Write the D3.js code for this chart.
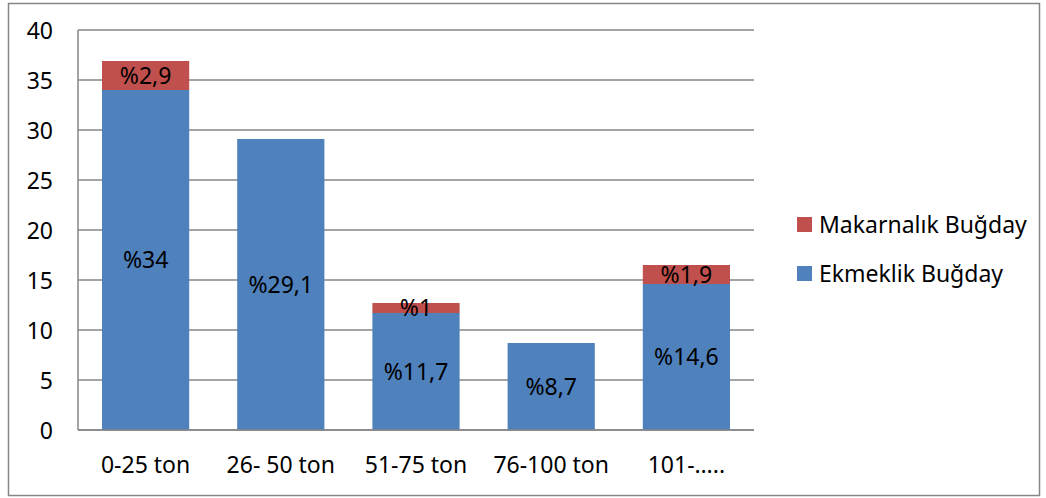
<!DOCTYPE html>
<html>
<head>
<meta charset="utf-8">
<script src="https://cdn.jsdelivr.net/npm/d3@7"></script>
<style>
  html, body { margin: 0; padding: 0; background: #fff; }
  svg text { font-family: "Noto Sans", "Open Sans", sans-serif; fill: #000; }
</style>
</head>
<body>
<svg id="chart" width="1046" height="498"></svg>
<script>
// Wheat production by farm size (share of producers, %)
const categories = ["0-25 ton", "26- 50 ton", "51-75 ton", "76-100 ton", "101-….."];
const breadWheat = [34, 29.1, 11.7, 8.7, 14.6];   // Ekmeklik Buğday
const durumWheat = [2.9, 0, 1, 0, 1.9];           // Makarnalık Buğday
const breadLabels = ["%34", "%29,1", "%11,7", "%8,7", "%14,6"];
const durumLabels = ["%2,9", "", "%1", "", "%1,9"];
const yTicks = [0, 5, 10, 15, 20, 25, 30, 35, 40];
const seriesNames = ["Makarnalık Buğday", "Ekmeklik Buğday"];

const colors = { bread: "#4F81BD", durum: "#C0504D" };
const gridColor = "#868686";
const FONT = "'Noto Sans', 'Open Sans', sans-serif";
const FS = 23;

const svg = d3.select("#chart");

// outer chart frame
svg.append("rect")
  .attr("x", 8.5).attr("y", 3.5)
  .attr("width", 1031).attr("height", 492)
  .attr("fill", "#fff")
  .attr("stroke", "#868686").attr("stroke-width", 1.5);

const plot = { left: 78, right: 754, top: 30, bottom: 430 };

const x = d3.scaleBand()
  .domain(categories)
  .range([plot.left, plot.right])
  .paddingInner(0.355)
  .paddingOuter(0.1775);

const y = d3.scaleLinear().domain([0, 40]).range([plot.bottom, plot.top]);

// horizontal gridlines
svg.append("g").selectAll("line")
  .data(yTicks)
  .join("line")
  .attr("x1", plot.left).attr("x2", plot.right)
  .attr("y1", d => y(d)).attr("y2", d => y(d))
  .attr("stroke", gridColor).attr("stroke-width", 1.5);

// value axis line
svg.append("line")
  .attr("x1", plot.left).attr("x2", plot.left)
  .attr("y1", plot.top).attr("y2", plot.bottom)
  .attr("stroke", gridColor).attr("stroke-width", 1.5);

// value axis labels
const yAxis = d3.axisLeft(y).tickValues(yTicks).tickSize(0).tickPadding(0).tickFormat(d3.format("d"));
const yg = svg.append("g").attr("transform", `translate(${plot.left - 25},0)`).call(yAxis);
yg.select(".domain").remove();
yg.selectAll("text").attr("font-size", FS).attr("dy", "0.35em")
  .style("font-family", FONT).attr("fill", "#000");

// stacked bars
const rows = categories.map((c, i) => ({ c, bread: breadWheat[i], durum: durumWheat[i], bl: breadLabels[i], dl: durumLabels[i] }));

const bars = svg.append("g");
bars.selectAll("rect.bread")
  .data(rows).join("rect").attr("class", "bread")
  .attr("x", d => x(d.c)).attr("width", x.bandwidth())
  .attr("y", d => y(d.bread)).attr("height", d => y(0) - y(d.bread))
  .attr("fill", colors.bread);

bars.selectAll("rect.durum")
  .data(rows.filter(d => d.durum > 0)).join("rect").attr("class", "durum")
  .attr("x", d => x(d.c)).attr("width", x.bandwidth())
  .attr("y", d => y(d.bread + d.durum)).attr("height", d => y(d.bread) - y(d.bread + d.durum))
  .attr("fill", colors.durum);

// bottom axis line drawn over bars
svg.append("line")
  .attr("x1", plot.left).attr("x2", plot.right)
  .attr("y1", plot.bottom).attr("y2", plot.bottom)
  .attr("stroke", gridColor).attr("stroke-width", 1.5);

// data labels centred in each segment
svg.append("g").selectAll("text")
  .data(rows).join("text")
  .attr("x", d => x(d.c) + x.bandwidth() / 2)
  .attr("y", d => y(d.bread / 2))
  .attr("dy", "0.35em")
  .attr("text-anchor", "middle").attr("font-size", FS)
  .text(d => d.bl);

svg.append("g").selectAll("text")
  .data(rows.filter(d => d.durum > 0)).join("text")
  .attr("x", d => x(d.c) + x.bandwidth() / 2)
  .attr("y", d => y(d.bread + d.durum / 2))
  .attr("dy", "0.35em")
  .attr("text-anchor", "middle").attr("font-size", FS)
  .text(d => d.dl);

// category axis labels
const xAxis = d3.axisBottom(x).tickSize(0).tickPadding(0);
const xg = svg.append("g").attr("transform", `translate(0,${plot.bottom + 35})`).call(xAxis);
xg.select(".domain").remove();
xg.selectAll("text").attr("font-size", FS).attr("dy", "0.35em")
  .style("font-family", FONT).attr("fill", "#000");

// legend
const legend = svg.append("g");
const legendColors = [colors.durum, colors.bread];
const legendY = [224.5, 273.5];
seriesNames.forEach((name, i) => {
  legend.append("rect")
    .attr("x", 797).attr("y", legendY[i] - 7.5)
    .attr("width", 15).attr("height", 15)
    .attr("fill", legendColors[i]);
  legend.append("text")
    .attr("x", 819).attr("y", legendY[i])
    .attr("dy", "0.35em").attr("font-size", FS)
    .text(name);
});
</script>
</body>
</html>
